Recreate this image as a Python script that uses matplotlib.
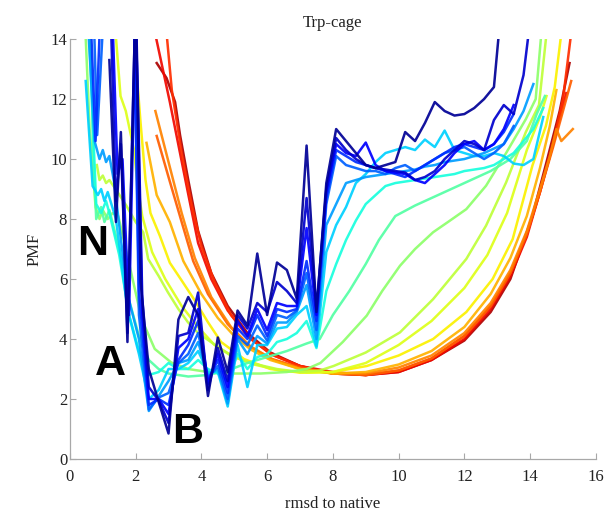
"""
Trp-cage PMF along rmsd to native, one curve per temperature (jet colours).
"""

import numpy as np
import matplotlib
matplotlib.use('Agg')
import matplotlib.pyplot as plt

nan = np.nan

# rmsd bins shared by the rugged low-temperature curves (x >= 2.4)
X_RUG = [2.4, 2.7, 3.0, 3.3, 3.6, 3.9, 4.2, 4.5, 4.8, 5.1, 5.4, 5.7, 6.0, 6.3,
         6.6, 6.9, 7.2, 7.5, 7.8, 8.1, 8.4, 8.7, 9.0, 9.3, 9.6, 9.9, 10.2,
         10.5, 10.8, 11.1, 11.4, 11.7, 12.0, 12.3, 12.6, 12.9, 13.2, 13.5,
         13.8, 14.1, 14.4]

# low temperature curves: left part (own x) + values on X_RUG
C0_XL = [1.2, 1.4, 1.55, 1.75, 2.0, 2.15]
C0_YL = [13.3, 7.9, 10.9, 3.9, 15.5, 5.9]
C0_Y = [3.0, 1.9, 0.85, 4.65, 5.4, 4.8, 2.1, 4.05, 2.9, 4.95, 4.45, 6.85,
        4.8, 6.55, 6.3, 5.35, 10.45, 4.9, 9.2, 11.0, 10.6, 10.2, 9.8, 9.7,
        9.8, 9.9, 10.9, 10.6, 11.2, 11.9, 11.6, 11.45, 11.5, 11.7, 12.0, 12.4,
        16.0, nan, nan, nan, nan]

C1_XL = [1.25, 1.4, 1.55, 1.75, 2.0, 2.2]
C1_YL = [14.5, 8.6, 10.5, 4.2, 15.5, 5.4]
C1_Y = [2.4, 1.95, 1.2, 4.1, 4.2, 5.55, 2.3, 3.7, 2.6, 4.8, 4.35, 5.2,
        4.9, 5.9, 5.6, 5.2, 8.7, 5.0, 9.0, 10.7, 10.3, 10.0, 9.8, 9.7,
        9.65, 9.6, 9.55, 9.3, 9.4, 9.6, 10.0, 10.3, 10.6, 10.5, 10.3, 11.3,
        11.8, 11.5, 12.8, 15.5, nan]

C2_XL = [1.3, 1.45, 1.6, 1.8, 2.0, 2.2]
C2_YL = [14.5, 9.5, 10.0, 4.8, 15.0, 4.9]
C2_Y = [2.0, 2.0, 1.5, 3.7, 4.0, 5.0, 2.5, 3.5, 2.4, 4.6, 4.1, 5.0,
        4.3, 5.2, 5.1, 5.1, 7.7, 4.8, 8.9, 10.5, 10.2, 10.1, 10.55, 9.8,
        9.6, 9.55, 9.5, 9.3, 9.2, 9.5, 9.8, 10.2, 10.5, 10.6, 10.3, 10.5,
        11.0, 11.8, nan, nan, nan]

C3_XL = [0.62, 0.78, 0.93, 1.3, 1.9, 2.1]
C3_YL = [15.0, 10.6, 15.0, 18.0, 18.0, 5.6]
C3_Y = [1.8, 2.0, 1.8, 3.3, 3.8, 4.6, 2.6, 3.3, 2.2, 4.35, 4.0, 4.8,
        4.1, 5.0, 4.9, 5.0, 6.6, 4.6, 8.7, 10.3, 10.1, 9.9, 9.8, 9.7,
        9.6, 9.5, 9.4, 9.6, 9.8, 10.0, 10.2, 10.4, 10.5, 10.4, 10.3, 10.5,
        10.9, 11.5, nan, nan, nan]

C4_XL = [0.72, 0.83, 1.03, 1.3, 1.9, 2.1]
C4_YL = [15.0, 10.8, 15.0, 18.0, 18.0, 4.8]
C4_Y = [1.65, 2.05, 2.2, 3.2, 3.5, 4.2, 2.7, 3.1, 2.0, 4.1, 3.8, 4.45,
        3.95, 4.8, 4.7, 4.95, 6.2, 4.3, 8.5, 10.1, 9.8, 9.7, 9.6, 9.6,
        9.5, 9.7, 9.8, 9.6, 9.8, 10.0, 10.2, 10.3, 10.4, 10.2, 10.0, 10.2,
        10.5, 11.1, nan, nan, nan]

C5_XL = [0.55, 0.75, 0.9, 1.0, 1.1, 1.2, 1.35, 1.5, 1.75, 2.1]
C5_YL = [14.5, 10.6, 10.0, 10.3, 9.9, 10.1, 9.2, 7.8, 5.5, 4.0]
C5_Y = [1.6, 2.1, 2.6, 3.2, 3.3, 3.9, 2.8, 3.0, 1.85, 4.0, 3.5, 4.1,
        3.85, 4.55, 4.55, 4.9, 5.8, 4.0, 7.8, 8.5, 9.2, 9.3, 9.4, 9.45,
        9.5, 9.55, 9.6, 9.65, 9.75, 9.8, 9.9, 9.95, 10.0, 10.1, 10.2, 10.35,
        10.5, 11.0, 11.6, 12.5, nan]

C6_XL = [0.48, 0.69, 0.85, 0.95, 1.05, 1.15, 1.4, 1.75, 2.1]
C6_YL = [12.6, 9.1, 8.8, 9.0, 8.6, 8.9, 8.0, 5.0, 3.5]
C6_Y = [2.0, 2.3, 3.0, 3.0, 3.2, 3.6, 2.9, 2.9, 1.75, 3.8, 2.4, 3.8,
        3.8, 4.35, 4.4, 4.8, 5.1, 3.75, 6.9, 7.8, 8.4, 9.2, 9.5, 9.9,
        10.2, 10.3, 10.4, 10.3, 10.65, 10.4, 10.95, 10.3, 10.2, 10.1, 10.1,
        10.2, 10.1, 9.85, 9.8, 10.0, 11.4]

C7_XL = [0.58, 0.8, 0.95, 1.1, 1.2, 1.5, 1.8, 2.1]
C7_YL = [14.3, 8.5, 8.2, 8.6, 8.2, 6.8, 4.8, 3.6]
C7_Y = [2.8, 2.9, 3.2, 3.0, 3.0, 3.3, 3.0, 2.85, 2.6, 3.5, 3.0, 3.4,
        3.5, 3.9, 4.0, 4.2, 4.6, 3.7, 5.6, 6.5, 7.3, 7.95, 8.5, 8.8,
        9.1, 9.2, 9.25, 9.3, 9.35, 9.4, 9.45, 9.5, 9.6, 9.65, 9.7, 9.8,
        10.0, 10.2, 10.6, 11.0, 11.7]

# higher temperature curves, each on its own rmsd points
C8_X = [0.62, 0.7, 0.8, 0.95, 1.05, 1.2, 1.5, 1.8, 2.1, 2.4, 2.7, 3.0, 3.6,
        4.2, 4.8, 5.4, 6.0, 6.6, 7.2, 7.6, 8.0, 8.5, 9.0, 9.4, 9.9, 10.5,
        11.2, 12.0, 12.8, 13.4, 13.9, 14.2, 14.45]
C8_Y = [14.3, 10.5, 8.0, 8.4, 7.9, 8.3, 7.0, 5.3, 4.1, 3.3, 3.0, 2.85, 2.75,
        2.8, 2.95, 3.2, 3.4, 3.6, 3.85, 4.0, 4.8, 5.6, 6.5, 7.3, 8.1, 8.45,
        8.8, 9.2, 9.6, 10.0, 10.6, 11.5, 12.1]

C9_X = [0.47, 0.6, 0.78, 0.9, 1.0, 1.15, 1.3, 1.47, 1.77, 2.18, 2.58, 3.08,
        3.6, 4.2, 5.0, 5.8, 6.6, 7.2, 7.62, 8.3, 9.03, 9.5, 10.04, 10.5,
        11.05, 11.5, 12.06, 12.66, 13.27, 13.87, 14.17, 14.35]
C9_Y = [14.3, 11.0, 8.4, 8.0, 8.3, 8.0, 8.2, 8.1, 6.67, 4.67, 3.67, 3.22,
        3.0, 2.9, 2.85, 2.85, 2.9, 3.0, 3.2, 3.9, 4.78, 5.6, 6.44, 7.0,
        7.56, 7.9, 8.33, 9.11, 10.2, 11.33, 12.0, 14.3]

C10_X = [0.82, 0.9, 1.0, 1.1, 1.2, 1.45, 1.72, 2.0, 2.23, 2.38, 2.7, 2.98,
         3.3, 3.59, 3.9, 4.29, 4.9, 5.5, 6.3, 7.0, 7.6, 8.02, 9.0, 10.04,
         11.05, 12.06, 12.66, 13.27, 13.87, 14.27, 14.5]
C10_Y = [9.8, 9.3, 9.45, 9.2, 9.3, 8.9, 8.44, 7.9, 7.56, 6.67, 6.1, 5.56,
         5.0, 4.56, 4.2, 3.9, 3.44, 3.2, 3.0, 2.9, 2.95, 3.1, 3.55, 4.22,
         5.33, 6.67, 7.78, 9.22, 10.9, 11.8, 14.2]

C11_X = [1.39, 1.54, 1.7, 1.95, 2.05, 2.2, 2.5, 2.9, 3.4, 3.9, 4.4, 5.0, 5.6,
         6.4, 7.2, 8.0, 9.0, 10.0, 11.0, 12.0, 12.7, 13.3, 13.9, 14.3, 14.5]
C11_Y = [14.2, 12.1, 11.6, 10.3, 9.2, 8.1, 6.9, 6.0, 5.1, 4.4, 3.8, 3.4, 3.15,
         2.95, 2.88, 2.9, 3.2, 3.8, 4.6, 5.7, 6.8, 8.2, 10.3, 11.4, 12.1]

C12_X = [2.0, 2.15, 2.3, 2.45, 2.74, 3.04, 3.4, 3.79, 4.2, 4.6, 5.3, 6.1, 7.0,
         8.0, 9.03, 10.0, 11.05, 12.06, 12.86, 13.47, 14.07, 14.48, 14.75,
         14.95]
C12_Y = [13.3, 11.2, 9.3, 8.2, 7.43, 6.54, 5.95, 5.3, 4.56, 3.9, 3.33, 3.0,
         2.88, 2.9, 3.1, 3.45, 4.0, 4.9, 6.0, 7.33, 9.78, 11.1, 12.4, 14.2]

C13_X = [2.33, 2.64, 3.04, 3.45, 4.0, 4.5, 5.0, 5.5, 6.1, 7.0, 8.0, 9.0, 10.0,
         11.0, 12.0, 12.8, 13.4, 13.9, 14.3, 14.6, 14.8]
C13_Y = [10.54, 8.8, 7.9, 6.6, 5.5, 4.7, 4.1, 3.65, 3.3, 3.0, 2.85, 2.9, 3.15,
         3.6, 4.4, 5.5, 6.7, 8.1, 9.7, 11.1, 12.3]

C14_X = [2.6, 3.0, 3.4, 3.8, 4.3, 4.9, 5.5, 6.2, 7.0, 8.0, 9.0, 10.0, 11.0,
         12.0, 12.8, 13.4, 13.9, 14.3, 14.6, 14.8, 14.95, 15.3]
C14_Y = [11.6, 9.9, 8.2, 6.7, 5.4, 4.4, 3.75, 3.3, 3.0, 2.85, 2.85, 3.05, 3.45,
         4.2, 5.2, 6.3, 7.6, 9.0, 10.1, 11.0, 10.6, 11.0]

C15_X = [2.64, 3.0, 3.4, 3.75, 4.2, 4.8, 5.4, 6.1, 7.0, 8.0, 9.0, 10.0, 11.0,
         12.0, 12.8, 13.4, 13.9, 14.3, 14.7, 15.0, 15.25]
C15_Y = [10.77, 9.4, 7.9, 6.6, 5.5, 4.5, 3.8, 3.35, 3.05, 2.85, 2.8, 2.95,
         3.35, 4.1, 5.1, 6.2, 7.5, 8.9, 10.4, 11.6, 12.6]

C16_X = [2.94, 3.1, 3.4, 3.7, 4.0, 4.4, 4.9, 5.5, 6.2, 7.0, 8.0, 9.0, 10.0,
         11.0, 12.0, 12.8, 13.4, 13.9, 14.3, 14.7, 15.0, 15.25]
C16_Y = [14.2, 12.3, 10.2, 8.5, 7.1, 5.9, 4.8, 4.0, 3.45, 3.1, 2.85, 2.8,
         2.95, 3.35, 4.1, 5.1, 6.2, 7.5, 8.9, 10.5, 12.0, 14.2]

C17_X = [2.59, 3.04, 3.55, 3.9, 4.3, 4.8, 5.4, 6.1, 7.0, 8.0, 9.0, 10.0, 11.0,
         12.0, 12.8, 13.4, 13.9, 14.3, 14.7, 15.1]
C17_Y = [14.2, 11.9, 9.1, 7.2, 6.0, 4.95, 4.1, 3.5, 3.1, 2.9, 2.8, 2.9, 3.3,
         4.0, 5.0, 6.1, 7.4, 8.9, 10.5, 12.2]

C18_X = [2.64, 2.94, 3.2, 3.35, 3.6, 3.9, 4.3, 4.8, 5.4, 6.1, 7.0, 8.0, 9.0,
         10.0, 11.0, 12.0, 12.8, 13.4, 14.07, 14.5, 14.9, 15.2]
C18_Y = [13.2, 12.7, 11.9, 10.8, 9.3, 7.6, 6.2, 5.1, 4.2, 3.55, 3.1, 2.85,
         2.8, 2.9, 3.3, 3.95, 4.9, 6.0, 8.1, 9.9, 11.6, 13.2]

# position of each curve in the jet colour map (low T blue -> high T red)
CMAP_POS = [0.02, 0.07, 0.12, 0.17, 0.22, 0.28, 0.33, 0.38, 0.45, 0.52,
            0.58, 0.62, 0.655, 0.72, 0.77, 0.81, 0.86, 0.90, 0.96]

STATE_LABELS = ['N', 'A', 'B']
STATE_X = [0.69, 1.23, 3.58]
STATE_Y = [6.8, 2.8, 0.52]

AXIS_GREY = '#a8a8a8'
TEXT_COLOR = '#222222'


def build_curves():
    """Collect (x, y) pairs in colour order."""
    rugged = [(C0_XL, C0_YL, C0_Y), (C1_XL, C1_YL, C1_Y), (C2_XL, C2_YL, C2_Y),
              (C3_XL, C3_YL, C3_Y), (C4_XL, C4_YL, C4_Y), (C5_XL, C5_YL, C5_Y),
              (C6_XL, C6_YL, C6_Y), (C7_XL, C7_YL, C7_Y)]
    curves = [(np.array(xl + X_RUG), np.array(yl + yr)) for xl, yl, yr in rugged]
    smooth = [(C8_X, C8_Y), (C9_X, C9_Y), (C10_X, C10_Y), (C11_X, C11_Y),
              (C12_X, C12_Y), (C13_X, C13_Y), (C14_X, C14_Y), (C15_X, C15_Y),
              (C16_X, C16_Y), (C17_X, C17_Y), (C18_X, C18_Y)]
    curves += [(np.array(x), np.array(y)) for x, y in smooth]
    return curves


def main():
    plt.rcParams['font.family'] = ['Liberation Serif', 'DejaVu Serif']
    fig = plt.figure(figsize=(6.08, 5.14), dpi=100)
    ax = fig.add_axes([0.115, 0.107, 0.865, 0.817])

    cmap = plt.get_cmap('jet')
    curves = build_curves()
    # red drawn first so the rugged blue curves sit on top
    for (x, y), pos in reversed(list(zip(curves, CMAP_POS))):
        ax.plot(x, y, color=cmap(pos), lw=1.8, alpha=0.92,
                solid_joinstyle='round')

    for lab, lx, ly in zip(STATE_LABELS, STATE_X, STATE_Y):
        ax.text(lx, ly, lab, ha='center', va='baseline', fontsize=31,
                fontweight='bold', family=['Liberation Sans', 'DejaVu Sans'],
                color='black', zorder=10)

    ax.set_xlim(0, 16)
    ax.set_ylim(0, 14)
    ax.set_xticks(range(0, 17, 2))
    ax.set_yticks(range(0, 15, 2))
    for side in ['top', 'right']:
        ax.spines[side].set_visible(False)
    for side in ['left', 'bottom']:
        ax.spines[side].set_color(AXIS_GREY)
        ax.spines[side].set_linewidth(0.9)
    ax.tick_params(axis='both', direction='in', length=4, width=0.8,
                   color=AXIS_GREY, labelcolor=TEXT_COLOR, labelsize=12)
    ax.tick_params(axis='x', pad=7)
    ax.tick_params(axis='y', pad=2)

    ax.set_title('Trp-cage', fontsize=12, color=TEXT_COLOR, pad=9)
    ax.set_xlabel('rmsd to native', fontsize=12, color=TEXT_COLOR, labelpad=8)
    ax.set_ylabel('PMF', fontsize=12, color=TEXT_COLOR, labelpad=6)

    fig.savefig('out.png', dpi=100, facecolor='white')


if __name__ == '__main__':
    main()
